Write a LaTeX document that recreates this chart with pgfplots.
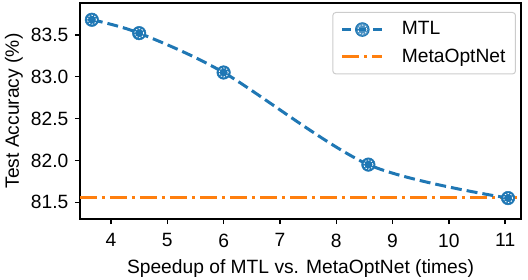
\documentclass[border=0pt]{standalone}
\usepackage{fontspec}
\setmainfont{Liberation Sans}
\usepackage{pgfplots}
\pgfplotsset{compat=1.18}
\definecolor{tabblue}{HTML}{1F77B4}
\definecolor{taborange}{HTML}{FF7F0E}
\begin{document}
\fontsize{19.3}{23}\selectfont
\begin{tikzpicture}
\begin{axis}[
  scale only axis, width=441bp, height=216bp,
  xmin=3.45, xmax=11.28, ymin=81.30, ymax=83.88,
  xtick={4,5,6,7,8,9,10,11}, ytick={81.5,82,82.5,83,83.5},
  y tick label style={/pgf/number format/.cd, fixed, fixed zerofill, precision=1},
  x tick label style={yshift=-3bp},
  /pgf/number format/assume math mode=true,
  tick align=outside, tick pos=left, major tick length=5bp,
  tick style={line width=1.5bp, black},
  axis line style={line width=1.5bp},
  xlabel={Speedup of MTL vs. MetaOptNet (times)},
  ylabel={Test Accuracy (\%)},
  xlabel style={at={(axis description cs:0.5,0)}, anchor=center, yshift=-50bp},
  ylabel style={at={(axis description cs:0,0.5)}, anchor=center, yshift=66bp},
  legend style={at={(axis description cs:1,1)}, anchor=north east, xshift=-5bp, yshift=-9bp,
    draw=black!20, line width=1bp, rounded corners=3bp, fill=white, fill opacity=0.8, text opacity=1,
    inner xsep=8bp, inner ysep=7bp, row sep=7bp, nodes={inner sep=2bp},
    /tikz/every odd column/.append style={column sep=16bp}},
  legend cell align=left,
]
\addlegendimage{legend image code/.code={
    \draw[tabblue, line width=3bp, dash pattern=on 9bp off 5bp on 12bp off 5bp on 9bp] (0bp,0bp) -- (40bp,0bp);
    \fill[tabblue] (20bp,0bp) circle (6.8bp);
    \draw[white, line width=0.8bp, dash pattern=on 1.5bp off 1.5bp] (20bp,0bp) circle (4.6bp);
  }}
\addlegendentry{MTL}
\addlegendimage{legend image code/.code={
    \draw[taborange, line width=3bp, dash pattern=on 17bp off 5bp on 3bp off 5bp] (0bp,0bp) -- (40bp,0bp);}}
\addlegendentry{MetaOptNet}
\addplot[forget plot, taborange, line width=3bp, dash pattern=on 17bp off 5bp on 3bp off 5bp]
  coordinates {(3.45,81.555) (11.28,81.555)};
\addplot[forget plot, tabblue, line width=3bp, dash pattern=on 11bp off 5bp, smooth, tension=0.5,
  mark=*, mark size=6.8bp, mark options={solid, fill=tabblue, draw=tabblue, line width=0.5bp}]
  coordinates {(3.66,83.68) (4.5,83.52) (6.0,83.05) (8.57,81.95) (11.05,81.55)};
\addplot[forget plot, only marks, mark=o, mark size=4.6bp,
  mark options={draw=white, line width=0.8bp, dash pattern=on 1.5bp off 1.5bp}]
  coordinates {(3.66,83.68) (4.5,83.52) (6.0,83.05) (8.57,81.95) (11.05,81.55)};
\end{axis}
\pgfresetboundingbox
\path (current axis.south west) ++(-80bp,-61bp) rectangle ++(528bp,280bp);
\end{tikzpicture}
\end{document}
